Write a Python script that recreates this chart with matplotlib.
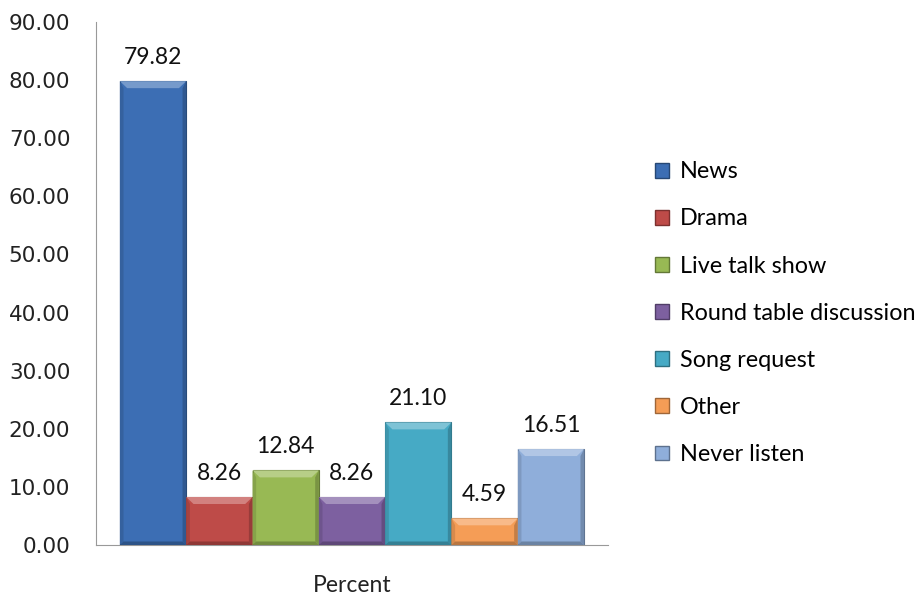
import numpy as np
import matplotlib
matplotlib.use('Agg')
import matplotlib.pyplot as plt
from matplotlib.patches import Polygon, Patch
import matplotlib.colors as mcolors

# data
categories = ["News", "Drama", "Live talk show", "Round table discussion",
              "Song request", "Other", "Never listen"]
values = [79.82, 8.26, 12.84, 8.26, 21.10, 4.59, 16.51]
group_label = "Percent"
colors = ["#3C6EB4", "#BE4B48", "#98B954", "#7D60A0", "#46AAC5", "#F59D56", "#8FAEDA"]


def shade(c, f):
    r = np.array(mcolors.to_rgb(c))
    if f >= 0:
        r = r + (1 - r) * f
    else:
        r = r * (1 + f)
    return tuple(np.clip(r, 0, 1))


fig = plt.figure(figsize=(9.19, 5.97), dpi=100)
ax = fig.add_axes([96 / 919, 52 / 597, (608 - 96) / 919, (545 - 22) / 597])

n = len(values)
width = 1.0
x = np.arange(n) - (n - 1) / 2
bars = ax.bar(x, values, width=width, color=colors, edgecolor=[shade(c, -0.35) for c in colors],
              linewidth=0.8, zorder=2)

ax.set_xlim(-3.86, 3.86)
ax.set_ylim(0, 90)

# bevel effect (pixel sized offsets converted to data units)
bx = 0.11 * width
by = 90 / 523 * 7
for xi, v, c in zip(x, values, colors):
    l, r = xi - width / 2, xi + width / 2
    ax.add_patch(Polygon([(l, v), (r, v), (r - bx, v - by), (l + bx, v - by)],
                         closed=True, facecolor=shade(c, 0.3), edgecolor='none', zorder=3))
    ax.add_patch(Polygon([(l, 0), (l + bx * 0.5, by * 0.5), (l + bx * 0.5, v - by), (l, v)],
                         closed=True, facecolor=shade(c, -0.12), edgecolor='none', zorder=3))
    ax.add_patch(Polygon([(r, 0), (r - bx * 0.5, by * 0.5), (r - bx * 0.5, v - by), (r, v)],
                         closed=True, facecolor=shade(c, -0.2), edgecolor='none', zorder=3))
    ax.add_patch(Polygon([(l, 0), (r, 0), (r - bx * 0.5, by * 0.5), (l + bx * 0.5, by * 0.5)],
                         closed=True, facecolor=shade(c, -0.25), edgecolor='none', zorder=3))
    ax.text(xi, v + 2.3, f"{v:.2f}", ha='center', va='bottom', fontsize=16.5,
            family='Lato', color='#111111')

ax.set_yticks(np.arange(0, 91, 10))
ax.set_yticklabels([f"{t:.2f}" for t in np.arange(0, 91, 10)], fontsize=15.5, color='#222222')
ax.tick_params(axis='y', length=0, pad=18.5)
ax.set_xticks([0])
ax.set_xticklabels([group_label], fontsize=16.5, family='Lato', color='#222222')
ax.tick_params(axis='x', length=0, pad=21.5)

for s in ['top', 'right']:
    ax.spines[s].set_visible(False)
ax.spines['left'].set_color('#999999')
ax.spines['bottom'].set_color('#999999')

handles = [Patch(facecolor=c, edgecolor=shade(c, -0.35)) for c in colors]
leg = fig.legend(handles, categories, loc='upper left', bbox_to_anchor=(646 / 919, 1 - 152 / 597),
                 frameon=False, prop={'family': 'Lato', 'size': 16.8},
                 handlelength=0.6, handleheight=0.6, handletextpad=0.45,
                 labelspacing=1.12, borderaxespad=0)

plt.savefig("out.png", dpi=100, facecolor='white')
plt.close()
